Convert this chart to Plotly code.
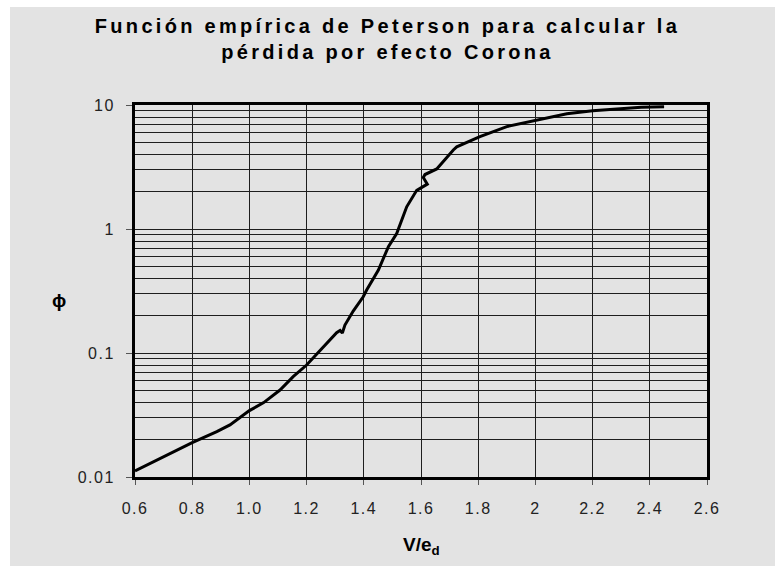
import plotly.graph_objects as go

# ---- data ----
v_ed = [0.600, 0.700, 0.800, 0.886, 0.932, 1.000, 1.050, 1.107, 1.153, 1.200,
        1.247, 1.282, 1.305, 1.317, 1.325, 1.334, 1.363, 1.398, 1.410, 1.451,
        1.486, 1.515, 1.550, 1.585, 1.600, 1.622, 1.608, 1.614, 1.655, 1.690,
        1.713, 1.725, 1.806, 1.900, 2.005, 2.110, 2.200, 2.296, 2.370, 2.450]
phi = [0.0112, 0.0146, 0.0189, 0.0232, 0.0263, 0.0343, 0.0398, 0.0503, 0.0644, 0.080,
       0.104, 0.127, 0.146, 0.152, 0.145, 0.168, 0.218, 0.284, 0.322, 0.467,
       0.72, 0.92, 1.51, 2.05, 2.15, 2.30, 2.60, 2.75, 3.05, 3.80,
       4.34, 4.60, 5.55, 6.70, 7.60, 8.50, 9.00, 9.40, 9.60, 9.70]

x_tickvals = [0.6, 0.8, 1.0, 1.2, 1.4, 1.6, 1.8, 2.0, 2.2, 2.4, 2.6]
x_ticktext = ["0.6", "0.8", "1.0", "1.2", "1.4", "1.6", "1.8", "2", "2.2", "2.4", "2.6"]
y_tickvals = [0.01, 0.1, 1, 10]
y_ticktext = ["0.01", "0.1", "1", "10"]
y_minor = [m * d for d in (0.01, 0.1, 1) for m in range(2, 10)]

title_text = "Función empírica de Peterson para calcular la<br>pérdida por efecto Corona"
x_title = "V/e<sub>d</sub>"
y_title = "ϕ"

BG = "#e3e3e3"
GRID = "#1e1e1e"
FONT = "Liberation Sans, Arial, sans-serif"

fig = go.Figure()
fig.add_trace(go.Scatter(x=v_ed, y=phi, mode="lines",
                         line=dict(color="black", width=3), showlegend=False))

W, H = 775, 566
L, R, T, B = 135, 68, 105, 89
pw, ph = W - L - R, H - T - B

def px_x(p):
    return (p - L) / pw

def px_y(p):
    return (H - B - p) / ph

fig.update_layout(
    width=W, height=H,
    margin=dict(l=L, r=R, t=T, b=B, pad=0),
    paper_bgcolor=BG, plot_bgcolor=BG,
    font=dict(family=FONT, color="#222"),
    title=dict(text=title_text, x=0.5, xref="container", xanchor="center",
               y=1 - 33 / H, yref="container", yanchor="middle",
               font=dict(family=FONT, size=20, color="black", weight="bold")),
    xaxis=dict(range=[0.6, 2.6], tickmode="array", tickvals=x_tickvals, ticktext=x_ticktext,
               showgrid=True, gridcolor=GRID, gridwidth=1,
               showline=True, linecolor="black", linewidth=3, mirror=True,
               ticks="outside", ticklen=5, tickcolor="#555", tickwidth=1,
               ticklabelstandoff=10,
               tickfont=dict(family=FONT, size=16, color="#222"), zeroline=False),
    yaxis=dict(type="log", range=[-2, 1], tickmode="array", tickvals=y_tickvals, ticktext=y_ticktext,
               showgrid=True, gridcolor=GRID, gridwidth=1,
               minor=dict(tickmode="array", tickvals=y_minor, showgrid=True,
                          gridcolor=GRID, gridwidth=1, ticks=""),
               showline=True, linecolor="black", linewidth=3, mirror=True,
               ticks="outside", ticklen=6, tickcolor="#555", tickwidth=1,
               ticklabelstandoff=8,
               tickfont=dict(family=FONT, size=16, color="#222"), zeroline=False),
    shapes=[
        dict(type="rect", xref="paper", yref="paper", layer="below",
             x0=px_x(-5), x1=px_x(10), y0=px_y(H + 5), y1=px_y(-5),
             fillcolor="white", line=dict(width=0)),
        dict(type="rect", xref="paper", yref="paper", layer="below",
             x0=px_x(-5), x1=px_x(W + 5), y0=px_y(7), y1=px_y(-5),
             fillcolor="white", line=dict(width=0)),
    ],
    annotations=[
        dict(text=x_title, xref="paper", yref="paper", x=0.5, y=px_y(546),
             xanchor="center", yanchor="middle", showarrow=False,
             font=dict(family=FONT, size=19, color="black", weight="bold")),
        dict(text=y_title, xref="paper", yref="paper", x=px_x(59), y=px_y(300),
             xanchor="center", yanchor="middle", showarrow=False,
             font=dict(family=FONT, size=19, color="black", weight="bold")),
    ],
)

post = """
document.querySelectorAll('.gtitle').forEach(function(t){t.style.letterSpacing='3.3px';});
document.querySelectorAll('.xtick text, .ytick text').forEach(function(t){t.style.letterSpacing='1.5px';});
"""
fig.write_html("out.html", post_script=post)
